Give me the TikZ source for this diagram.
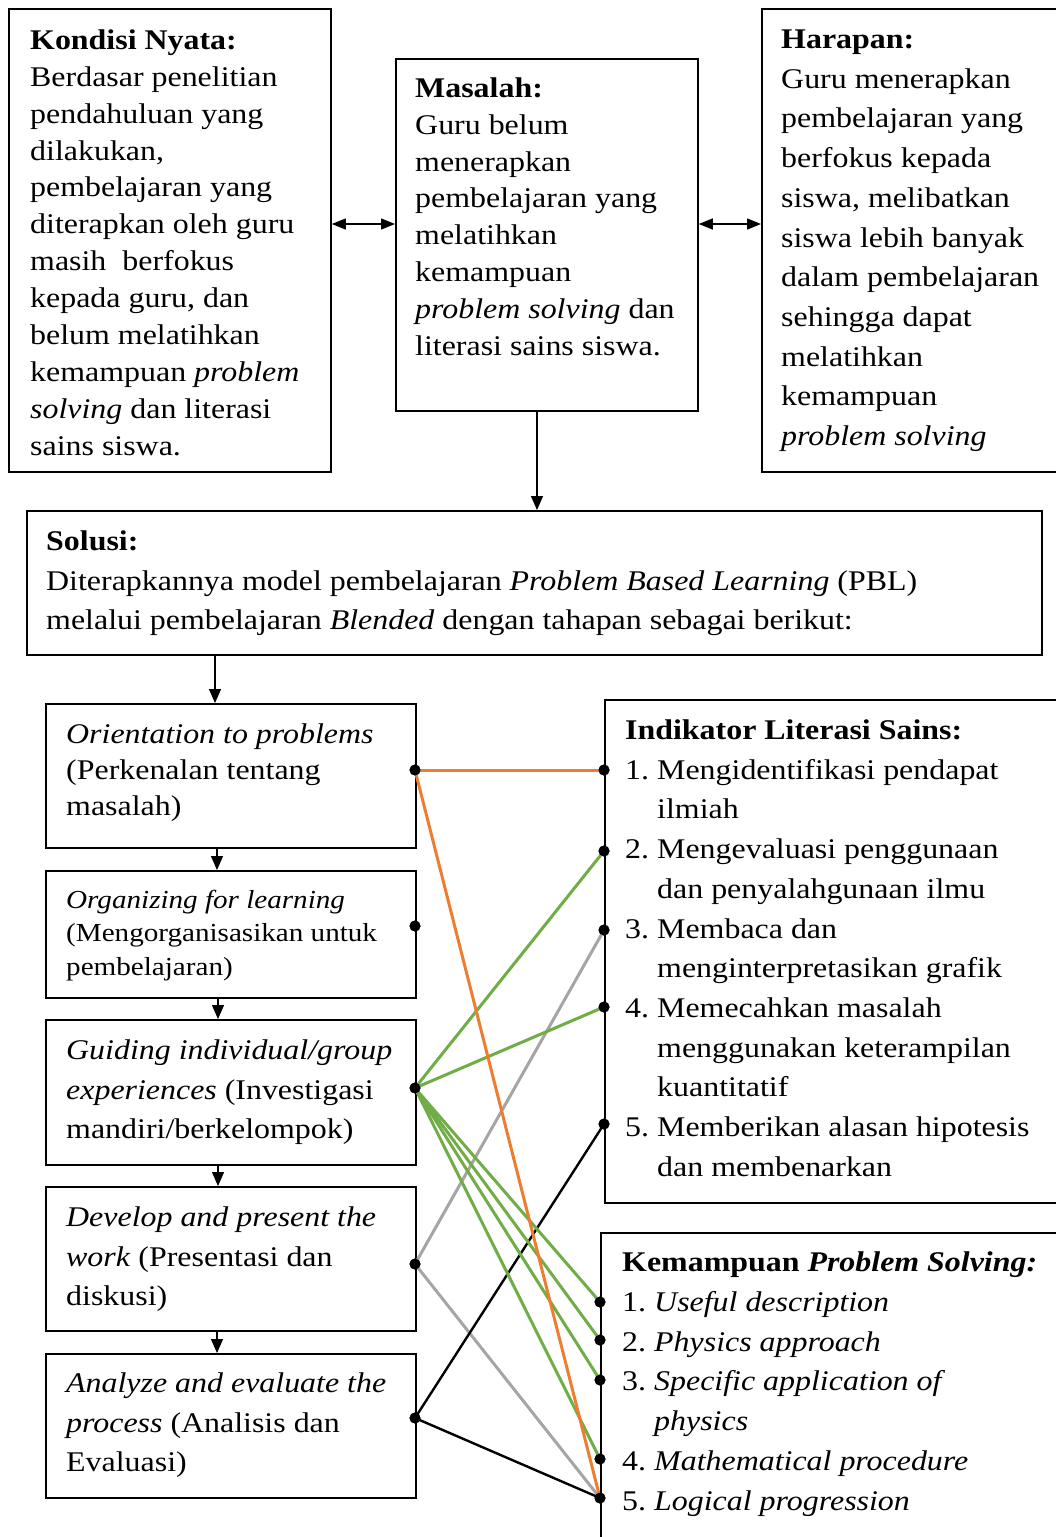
\documentclass[tikz,border=0pt]{standalone}
\usepackage{fontspec}
\setmainfont{Liberation Serif}[FakeStretch=1.12]
\usetikzlibrary{arrows.meta,calc}
\newcommand\mylines[3]{{\fontsize{#1}{#2}\selectfont\begin{tabular}[t]{@{}l@{}}#3\end{tabular}}}
\newcommand\numi[1]{\makebox[32pt][l]{#1}}
\definecolor{corange}{HTML}{ED7D31}
\definecolor{cgreen}{HTML}{70AD47}
\definecolor{cgray}{HTML}{A5A5A5}
\tikzset{
  box/.style={draw, line width=1.8pt, inner sep=0pt, anchor=north west},
  txt/.style={anchor=base west, inner sep=0pt},
  dot/.style={circle, fill=black, inner sep=0pt, minimum size=11pt},
  arr/.style={line width=1.3pt, -{Triangle[length=14pt,width=12pt]}},
  darr/.style={line width=1.3pt, {Triangle[length=14pt,width=11pt]}-{Triangle[length=14pt,width=11pt]}},
  lo/.style={corange, line width=3pt},
  lg/.style={cgreen, line width=3pt},
  lgr/.style={cgray, line width=3pt},
  lb/.style={black, line width=2.4pt},
}
\begin{document}
\begin{tikzpicture}[x=1pt,y=-1pt]
\useasboundingbox (0,0) rectangle (1056,1537);
% top boxes
\node[box, minimum width=322pt, minimum height=463pt] (kondisi) at (8,8) {};
\node[box, minimum width=302pt, minimum height=352pt] (masalah) at (395,58) {};
\node[box, minimum width=320pt, minimum height=463pt] (harapan) at (761,8) {};
\node[txt] (kondisiT) at (30,49.3) {\mylines{28.5}{36.9}{\textbf{Kondisi Nyata:}\\
Berdasar penelitian\\ pendahuluan yang\\ dilakukan,\\ pembelajaran yang\\
diterapkan oleh guru\\ masih\ \ berfokus\\ kepada guru, dan\\ belum melatihkan\\
kemampuan \textit{problem}\\ \textit{solving} dan literasi\\ sains siswa.}};
\node[txt] (masalahT) at (415,97.5) {\mylines{28.5}{36.8}{\textbf{Masalah:}\\
Guru belum\\ menerapkan\\ pembelajaran yang\\ melatihkan\\ kemampuan\\
\textit{problem solving} dan\\ literasi sains siswa.}};
\node[txt] (harapanT) at (781,48.5) {\mylines{28.5}{39.7}{\textbf{Harapan:}\\
Guru menerapkan\\ pembelajaran yang\\ berfokus kepada\\ siswa, melibatkan\\
siswa lebih banyak\\ dalam pembelajaran\\ sehingga dapat\\ melatihkan\\ kemampuan\\
\textit{problem solving}}};
\draw[darr] (kondisi.east |- 0,224) -- (masalah.west |- 0,224);
\draw[darr] (masalah.east |- 0,224) -- (harapan.west |- 0,224);
% solusi
\node[box, minimum width=1015pt, minimum height=144pt] (solusi) at (26,510) {};
\node[txt] (solusiT) at (46,550.5) {\mylines{28.5}{39.5}{\textbf{Solusi:}\\
Diterapkannya model pembelajaran \textit{Problem Based Learning} (PBL)\\
melalui pembelajaran \textit{Blended} dengan tahapan sebagai berikut:}};
\draw[arr] (537,0 |- masalah.south) -- (537,0 |- solusi.north);
% steps
\node[box, minimum width=370pt, minimum height=144pt] (s1) at (45,703) {};
\node[box, minimum width=370pt, minimum height=127pt] (s2) at (45,870) {};
\node[box, minimum width=370pt, minimum height=145pt] (s3) at (45,1019) {};
\node[box, minimum width=370pt, minimum height=144pt] (s4) at (45,1186) {};
\node[box, minimum width=370pt, minimum height=144pt] (s5) at (45,1353) {};
\node[txt] (s1T) at (66,743.5) {\mylines{28.5}{36}{\textit{Orientation to problems}\\
(Perkenalan tentang\\ masalah)}};
\node[txt] (s2T) at (66,908) {\mylines{26}{33.5}{\textit{Organizing for learning}\\
(Mengorganisasikan untuk\\ pembelajaran)}};
\node[txt] (s3T) at (66,1059.5) {\mylines{28.5}{39.5}{\textit{Guiding individual/group}\\
\textit{experiences} (Investigasi\\ mandiri/berkelompok)}};
\node[txt] (s4T) at (66,1226.5) {\mylines{28.5}{39.5}{\textit{Develop and present the}\\
\textit{work} (Presentasi dan\\ diskusi)}};
\node[txt] (s5T) at (66,1392.5) {\mylines{28.5}{39.5}{\textit{Analyze and evaluate the}\\
\textit{process} (Analisis dan\\ Evaluasi)}};
\draw[arr] (215,0 |- solusi.south) -- (215,0 |- s1.north);
\draw[arr] (217,0 |- s1.south) -- (217,0 |- s2.north);
\draw[arr] (218,0 |- s2.south) -- (218,0 |- s3.north);
\draw[arr] (218,0 |- s3.south) -- (218,0 |- s4.north);
\draw[arr] (217,0 |- s4.south) -- (217,0 |- s5.north);
% right boxes
\node[box, minimum width=470pt, minimum height=503pt] (ind) at (604,699) {};
\node[box, minimum width=470pt, minimum height=330pt] (kps) at (600,1232) {};
\node[txt] (indT) at (625,739.5) {\mylines{28.5}{39.7}{\textbf{Indikator Literasi Sains:}\\
\numi{1.}Mengidentifikasi pendapat\\ \numi{}ilmiah\\
\numi{2.}Mengevaluasi penggunaan\\ \numi{}dan penyalahgunaan ilmu\\
\numi{3.}Membaca dan\\ \numi{}menginterpretasikan grafik\\
\numi{4.}Memecahkan masalah\\ \numi{}menggunakan keterampilan\\ \numi{}kuantitatif\\
\numi{5.}Memberikan alasan hipotesis\\ \numi{}dan membenarkan}};
\node[txt] (kpsT) at (622,1271.5) {\mylines{28.5}{39.8}{\textbf{Kemampuan \textit{Problem Solving:}}\\
\numi{1.}\textit{Useful description}\\
\numi{2.}\textit{Physics approach}\\
\numi{3.}\textit{Specific application of}\\ \numi{}\textit{physics}\\
\numi{4.}\textit{Mathematical procedure}\\
\numi{5.}\textit{Logical progression}}};
% dots
\node[dot] (o1) at (415,770) {};
\node[dot] (o2) at (415,926) {};
\node[dot] (o3) at (415,1088) {};
\node[dot] (o4) at (415,1264) {};
\node[dot] (o5) at (415,1418) {};
\node[dot] (i1) at (604,770) {};
\node[dot] (i2) at (604,851) {};
\node[dot] (i3) at (604,930) {};
\node[dot] (i4) at (604,1007) {};
\node[dot] (i5) at (604,1124) {};
\node[dot] (k1) at (600,1302) {};
\node[dot] (k2) at (600,1340) {};
\node[dot] (k3) at (600,1380) {};
\node[dot] (k4) at (600,1459) {};
\node[dot] (k5) at (600,1498) {};
% connectors
\begin{scope}[on background layer/.try]
\draw[lgr] (o4.center) -- (i3.center);
\draw[lgr] (o4.center) -- (k5.center);
\draw[lb] (o5.center) -- (i5.center);
\draw[lb] (o5.center) -- (k5.center);
\draw[lg] (o3.center) -- (i2.center);
\draw[lg] (o3.center) -- (i4.center);
\draw[lg] (o3.center) -- (k1.center);
\draw[lg] (o3.center) -- (k2.center);
\draw[lg] (o3.center) -- (k3.center);
\draw[lg] (o3.center) -- (k4.center);
\draw[lo] (o1.center) -- (i1.center);
\draw[lo] (o1.center) -- (k5.center);
\end{scope}
% redraw dots on top
\foreach \d in {o1,o2,o3,o4,o5,i1,i2,i3,i4,i5,k1,k2,k3,k4,k5}
  \fill (\d.center) circle (5.5pt);
\end{tikzpicture}
\end{document}
